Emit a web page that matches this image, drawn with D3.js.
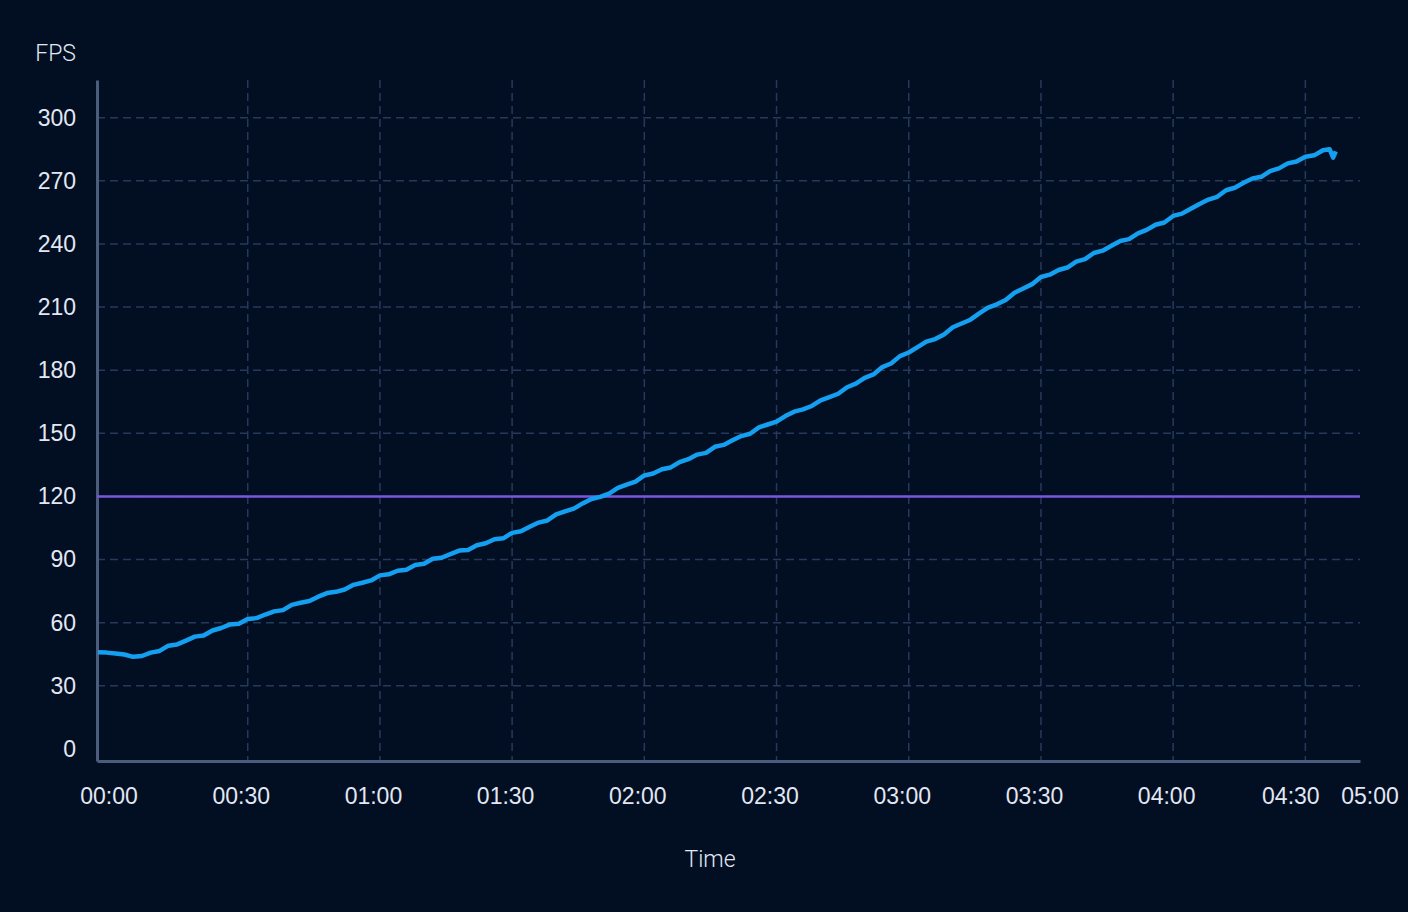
<!DOCTYPE html>
<html lang="en">
<head>
    <meta charset="UTF-8">
    <script src="https://d3js.org/d3.v7.min.js"></script>
    <style>
        html, body { margin: 0; padding: 0; background: #020e22; }
        body { font-family: Roboto, "Noto Sans", Arial, sans-serif; }
        svg { display: block; }
        .lbl { fill: #e2e8f3; font-size: 23px; font-weight: 300; }
    </style>
</head>
<body>
    <svg id="chart"></svg>
    <script>
        // sample time in seconds and fps
        const times = [-4, -2, 0, 2, 4, 6, 8, 10, 12, 14, 16, 18, 20, 22, 24, 26, 28, 30,
            32, 34, 36, 38, 40, 42, 44, 46, 48, 50, 52, 54, 56, 58, 60,
            62, 64, 66, 68, 70, 72, 74, 76, 78, 80, 82, 84, 86, 88, 90,
            92, 94, 96, 98, 100, 102, 104, 106, 108, 110, 112, 114, 116, 118, 120,
            122, 124, 126, 128, 130, 132, 134, 136, 138, 140, 142, 144, 146, 148, 150,
            152, 154, 156, 158, 160, 162, 164, 166, 168, 170, 172, 174, 176, 178, 180,
            182, 184, 186, 188, 190, 192, 194, 196, 198, 200, 202, 204, 206, 208, 210,
            212, 214, 216, 218, 220, 222, 224, 226, 228, 230, 232, 234, 236, 238, 240,
            242, 244, 246, 248, 250, 252, 254, 256, 258, 260, 262, 264, 266, 268, 270,
            272, 274, 275.5, 276.3, 276.9];
        const fps = [46.0, 45.8, 45.4, 44.9, 43.8, 44.2, 45.8, 46.6, 49.1, 49.7, 51.5, 53.4, 53.9, 56.3, 57.5, 59.2, 59.5, 61.8,
            62.2, 63.9, 65.4, 66.0, 68.5, 69.5, 70.3, 72.4, 74.1, 74.7, 75.8, 78.0, 79.0, 80.1, 82.5,
            83.0, 84.7, 85.2, 87.4, 88.0, 90.4, 90.9, 92.6, 94.3, 94.6, 96.8, 97.8, 99.7, 100.1, 102.7,
            103.5, 105.6, 107.6, 108.6, 111.5, 112.9, 114.2, 116.7, 118.8, 119.8, 121.4, 124.1, 125.6, 127.1, 130.0,
            130.9, 132.9, 133.8, 136.3, 137.7, 139.9, 140.7, 143.6, 144.5, 146.7, 148.7, 149.8, 152.8, 154.2, 155.6,
            158.2, 160.3, 161.4, 163.0, 165.7, 167.2, 168.8, 171.9, 173.6, 176.4, 178.0, 181.5, 183.2, 186.7, 188.4,
            191.0, 193.6, 194.8, 197.0, 200.4, 202.2, 204.0, 207.0, 209.7, 211.3, 213.4, 216.8, 218.8, 220.9, 224.3,
            225.4, 227.6, 228.8, 231.6, 232.8, 235.7, 236.8, 239.1, 241.4, 242.3, 245.0, 246.7, 249.1, 250.2, 253.3,
            254.4, 256.7, 259.0, 261.1, 262.4, 265.5, 266.7, 269.1, 271.1, 271.9, 274.6, 275.9, 278.3, 279.2, 281.4,
            282.1, 284.5, 285.0, 281.0, 284.0];
        const threshold = 120;
        const yTicks = [0, 30, 60, 90, 120, 150, 180, 210, 240, 270, 300];
        const xTicks = [0, 30, 60, 90, 120, 150, 180, 210, 240, 270];
        const xEndLabel = "05:00";

        const data = times.map((t, i) => ({ t: t, v: fps[i] }));

        const W = 1408, H = 912;
        const margin = {top: 80, right: 48, bottom: 151, left: 97};

        const svg = d3.select("#chart").attr("width", W).attr("height", H);
        svg.append("rect").attr("width", W).attr("height", H).attr("fill", "#020e22");

        const x = d3.scaleLinear()
            .domain([-4.2, 282.4])
            .range([margin.left, W - margin.right]);

        const y = d3.scaleLinear()
            .domain([-5.7, 317.9])
            .range([H - margin.bottom, margin.top]);

        const fmt = s => {
            const m = Math.floor(s / 60), r = s % 60;
            return String(m).padStart(2, "0") + ":" + String(r).padStart(2, "0");
        };

        // grid
        const grid = svg.append("g");
        grid.selectAll(".hg")
            .data(yTicks.filter(d => d > 0))
            .enter().append("line")
            .attr("x1", x.range()[0]).attr("x2", x.range()[1])
            .attr("y1", d => y(d)).attr("y2", d => y(d))
            .attr("stroke", "#27395b").attr("stroke-width", 1.5)
            .attr("stroke-dasharray", "8,5");
        grid.selectAll(".vg")
            .data(xTicks.filter(d => d > 0))
            .enter().append("line")
            .attr("x1", d => x(d)).attr("x2", d => x(d))
            .attr("y1", y.range()[1]).attr("y2", y.range()[0])
            .attr("stroke", "#27395b").attr("stroke-width", 1.5)
            .attr("stroke-dasharray", "8,5");

        // axes
        const yAxis = svg.append("g")
            .attr("transform", `translate(${margin.left},0)`)
            .call(d3.axisLeft(y).tickValues(yTicks).tickSize(0).tickPadding(21));
        yAxis.select(".domain").attr("stroke", "#4b5c7c").attr("stroke-width", 3);
        yAxis.selectAll("text").attr("class", "lbl").attr("font-family", null).attr("font-size", null);

        const xAxis = svg.append("g")
            .attr("transform", `translate(0,${H - margin.bottom})`)
            .call(d3.axisBottom(x).tickValues(xTicks).tickFormat(fmt).tickSize(0).tickPadding(27));
        xAxis.select(".domain").attr("stroke", "#4b5c7c").attr("stroke-width", 3);
        xAxis.selectAll("text").attr("class", "lbl").attr("font-family", null).attr("font-size", null)
            .attr("dx", d => d === 270 ? -15 : -7);
        xAxis.append("text")
            .attr("class", "lbl")
            .attr("x", x.range()[1] + 10)
            .attr("y", 27)
            .attr("dy", "0.71em")
            .attr("text-anchor", "middle")
            .text(xEndLabel);

        // threshold
        svg.append("line")
            .attr("x1", x.range()[0]).attr("x2", x.range()[1])
            .attr("y1", y(threshold)).attr("y2", y(threshold))
            .attr("stroke", "#7d55dc").attr("stroke-width", 2.5);

        // fps line
        svg.append("path")
            .datum(data)
            .attr("fill", "none")
            .attr("stroke", "#149ff0")
            .attr("stroke-width", 4.5)
            .attr("stroke-linejoin", "round")
            .attr("d", d3.line().x(d => x(d.t)).y(d => y(d.v)));

        // titles
        svg.append("text").attr("class", "lbl")
            .attr("x", 76).attr("y", 53).attr("dy", "0.35em")
            .attr("text-anchor", "end").text("FPS");
        svg.append("text").attr("class", "lbl")
            .attr("x", 710).attr("y", 859).attr("dy", "0.35em")
            .attr("text-anchor", "middle").text("Time");
    </script>
</body>
</html>
